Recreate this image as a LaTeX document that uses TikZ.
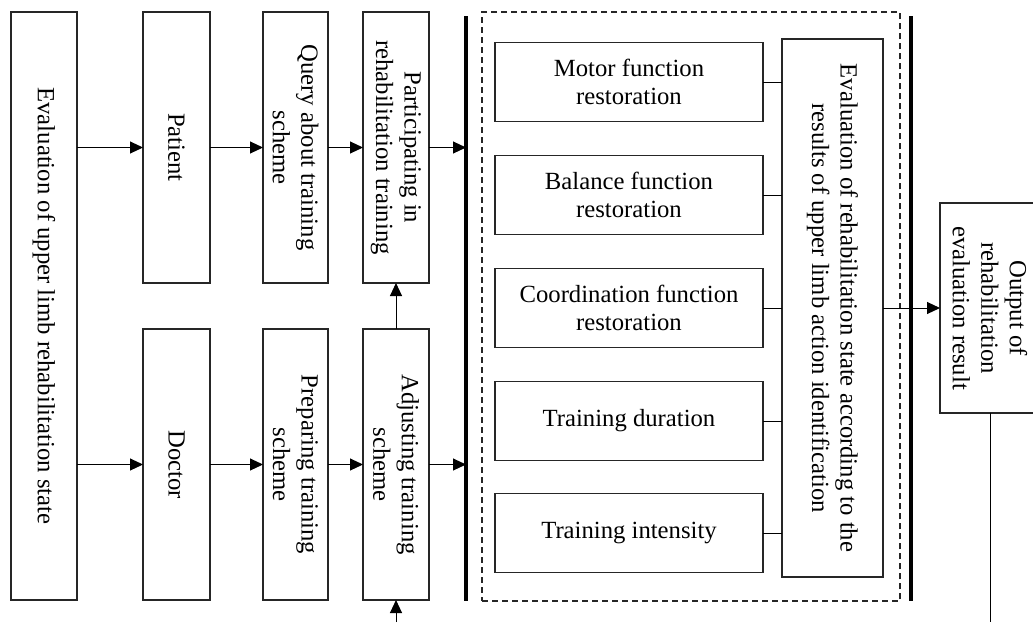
\documentclass[tikz,border=0pt]{standalone}
\usepackage{fontspec}
\setmainfont{Liberation Serif}
\usetikzlibrary{arrows.meta}
\begin{document}
\begin{tikzpicture}[x=1pt,y=-1pt,
  box/.style={draw=black!85, line width=1.2pt, inner sep=0pt, outer sep=0pt},
  dbox/.style={draw=black!85, line width=1.1pt, dash pattern=on 6pt off 4pt, inner sep=0pt, outer sep=0pt},
  rtext/.style={rotate=-90, align=center, font=\fontsize{24.7}{28.5}\selectfont, inner sep=0pt},
  htext/.style={align=center, font=\fontsize{24.7}{28.5}\selectfont, inner sep=0pt},
  arr/.style={line width=1pt, -{Triangle[length=13pt,width=12pt]}},
  link/.style={line width=1pt},
  bar/.style={line width=3.2pt},
]
\clip (0,0) rectangle (1033,622);
\fill[white] (0,0) rectangle (1033,622);

% left column boxes
\node[box, minimum width=66pt, minimum height=588pt] (eval) at (44,306) {};
\node[rtext] (evalT) at (eval) {Evaluation of upper limb rehabilitation state};

\node[box, minimum width=67pt, minimum height=271pt] (patient) at (176.5,147.5) {};
\node[rtext] (patientT) at (patient) {Patient};
\node[box, minimum width=65pt, minimum height=271pt] (query) at (295.5,147.5) {};
\node[rtext] (queryT) at (query) {Query about training\\scheme};
\node[box, minimum width=66pt, minimum height=271pt] (part) at (396,147.5) {};
\node[rtext] (partT) at (part) {Participating in\\rehabilitation training};

\node[box, minimum width=67pt, minimum height=271pt] (doctor) at (176.5,464.5) {};
\node[rtext] (doctorT) at (doctor) {Doctor};
\node[box, minimum width=65pt, minimum height=271pt] (prep) at (295.5,464.5) {};
\node[rtext] (prepT) at (prep) {Preparing training\\scheme};
\node[box, minimum width=66pt, minimum height=271pt] (adj) at (396,464.5) {};
\node[rtext] (adjT) at (adj) {Adjusting training\\scheme};

% bars
\coordinate (b1t) at (466,16);
\coordinate (b1b) at (466,601);
\coordinate (b2t) at (911,16);
\coordinate (b2b) at (911,601);
\draw[bar] (b1t) -- (b1b);
\draw[bar] (b2t) -- (b2b);

% dashed group
\node[dbox, minimum width=418pt, minimum height=589pt] (group) at (691,306.5) {};

\node[box, minimum width=268pt, minimum height=79pt] (motor) at (629,82) {};
\node[htext] (motorT) at (motor) {Motor function\\restoration};
\node[box, minimum width=268pt, minimum height=79pt] (balance) at (629,195) {};
\node[htext] (balanceT) at (balance) {Balance function\\restoration};
\node[box, minimum width=268pt, minimum height=79pt] (coord) at (629,308) {};
\node[htext] (coordT) at (coord) {Coordination function\\restoration};
\node[box, minimum width=268pt, minimum height=79pt] (dur) at (629,421) {};
\node[htext] (durT) at (dur) {Training duration};
\node[box, minimum width=268pt, minimum height=79pt] (inten) at (629,533) {};
\node[htext] (intenT) at (inten) {Training intensity};

\node[box, minimum width=101pt, minimum height=538pt] (res) at (832.5,308) {};
\node[rtext] (resT) at (res) {Evaluation of rehabilitation state according to the\\results of upper limb action identification};

\node[box, minimum width=100pt, minimum height=210pt] (out) at (990,308) {};
\node[rtext] (outT) at (out) {Output of\\rehabilitation\\evaluation result};

% connectors
\draw[arr] (eval.east |- patient) -- (patient.west);
\draw[arr] (eval.east |- doctor) -- (doctor.west);
\draw[arr] (patient.east) -- (query.west);
\draw[arr] (doctor.east) -- (prep.west);
\draw[arr] (query.east) -- (part.west);
\draw[arr] (prep.east) -- (adj.west);
\draw[arr] (part.east) -- (part.east -| b1t);
\draw[arr] (adj.east) -- (adj.east -| b1t);
\draw[arr] (adj.north) -- (part.south);
\coordinate (fb) at (396,622);
\draw[arr] (fb) -- (adj.south);

\foreach \n in {motor,balance,coord,dur,inten}
  \draw[link] (\n.east) -- (\n.east -| res.west);

\draw[arr] (res.east) -- (out.west);
\coordinate (ob) at (990,622);
\draw[link] (out.south) -- (ob);
\end{tikzpicture}
\end{document}
